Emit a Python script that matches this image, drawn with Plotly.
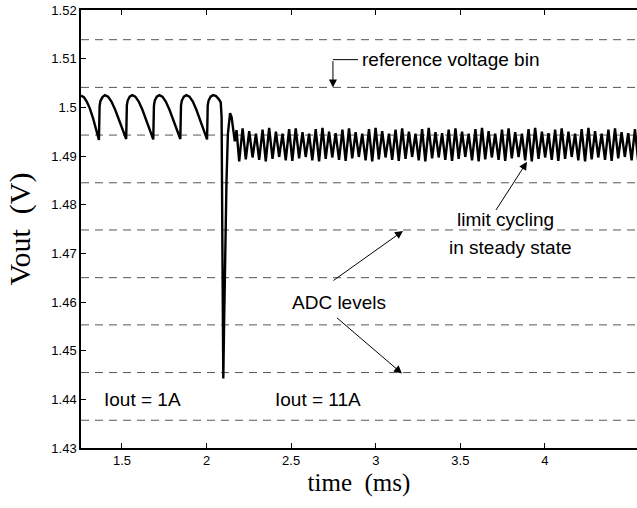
import plotly.graph_objects as go

# ADC quantisation levels (dashed lines), volts
adc_levels = [1.5139, 1.5041, 1.4943, 1.4845, 1.4748, 1.4650, 1.4553, 1.4455, 1.4357]

# Vout before the load step (Iout = 1A), through the dip and recovery
transient_t = [
    1.258, 1.275, 1.292, 1.310, 1.328, 1.345, 1.358, 1.364,
    1.368, 1.373, 1.385, 1.400, 1.418, 1.438, 1.460, 1.482, 1.503, 1.518, 1.525,
    1.529, 1.534, 1.546, 1.561, 1.579, 1.599, 1.621, 1.643, 1.664, 1.678, 1.685,
    1.689, 1.694, 1.706, 1.721, 1.739, 1.759, 1.781, 1.803, 1.824, 1.838, 1.845,
    1.849, 1.854, 1.866, 1.881, 1.899, 1.919, 1.940, 1.962, 1.983, 1.997, 2.003,
    2.007, 2.012, 2.024, 2.039, 2.056, 2.072, 2.084, 2.089, 2.093, 2.097, 2.099,
    2.103, 2.110, 2.118, 2.126, 2.133, 2.139, 2.148, 2.158, 2.167, 2.177,
]
transient_v = [
    1.5024, 1.5021, 1.5012, 1.4998, 1.4979, 1.4957, 1.4941, 1.4933,
    1.5003, 1.5013, 1.5021, 1.5025, 1.5022, 1.5012, 1.4995, 1.4975, 1.4954, 1.4940, 1.4935,
    1.5004, 1.5014, 1.5022, 1.5025, 1.5022, 1.5012, 1.4995, 1.4975, 1.4953, 1.4940, 1.4934,
    1.5003, 1.5014, 1.5022, 1.5025, 1.5022, 1.5012, 1.4995, 1.4975, 1.4954, 1.4941, 1.4935,
    1.5004, 1.5014, 1.5022, 1.5025, 1.5022, 1.5012, 1.4995, 1.4975, 1.4953, 1.4940, 1.4934,
    1.5004, 1.5014, 1.5022, 1.5025, 1.5023, 1.5017, 1.5010, 1.4980, 1.4750, 1.4500, 1.4443,
    1.4540, 1.4700, 1.4850, 1.4945, 1.4980, 1.4988, 1.4980, 1.4958, 1.4930, 1.4953,
]

# limit cycling in steady state (Iout = 11A): troughs and peaks
ss_trough_t = [
    2.193, 2.232, 2.272, 2.311, 2.350, 2.390, 2.429, 2.468, 2.507, 2.547,
    2.586, 2.625, 2.665, 2.704, 2.743, 2.783, 2.822, 2.861, 2.900, 2.940,
    2.979, 3.018, 3.058, 3.097, 3.136, 3.176, 3.215, 3.254, 3.293, 3.333,
    3.372, 3.411, 3.451, 3.490, 3.529, 3.569, 3.608, 3.647, 3.686, 3.726,
    3.765, 3.804, 3.844, 3.883, 3.922, 3.962, 4.001, 4.040, 4.079, 4.119,
    4.158, 4.197, 4.237, 4.276, 4.315, 4.355, 4.394, 4.433, 4.472, 4.512,
    4.551,
]
ss_trough_v = [
    1.4889, 1.4893, 1.4897, 1.4892, 1.4889, 1.4894, 1.4898, 1.4891, 1.4890, 1.4895,
    1.4898, 1.4891, 1.4889, 1.4894, 1.4897, 1.4892, 1.4890, 1.4895, 1.4898, 1.4891,
    1.4889, 1.4893, 1.4897, 1.4892, 1.4890, 1.4894, 1.4898, 1.4891, 1.4889, 1.4895,
    1.4897, 1.4892, 1.4890, 1.4894, 1.4898, 1.4891, 1.4889, 1.4893, 1.4897, 1.4892,
    1.4890, 1.4895, 1.4898, 1.4891, 1.4889, 1.4894, 1.4897, 1.4892, 1.4890, 1.4894,
    1.4898, 1.4891, 1.4889, 1.4893, 1.4897, 1.4892, 1.4890, 1.4895, 1.4898, 1.4891,
    1.4890,
]
ss_peak_t = [
    2.213, 2.252, 2.292, 2.331, 2.370, 2.410, 2.449, 2.488, 2.527, 2.567,
    2.606, 2.645, 2.685, 2.724, 2.763, 2.803, 2.842, 2.881, 2.920, 2.960,
    2.999, 3.038, 3.078, 3.117, 3.156, 3.196, 3.235, 3.274, 3.313, 3.353,
    3.392, 3.431, 3.471, 3.510, 3.549, 3.589, 3.628, 3.667, 3.706, 3.746,
    3.785, 3.824, 3.864, 3.903, 3.942, 3.982, 4.021, 4.060, 4.099, 4.139,
    4.178, 4.217, 4.257, 4.296, 4.335, 4.375, 4.414, 4.453, 4.492, 4.532,
]
ss_peak_v = [
    1.4957, 1.4951, 1.4946, 1.4954, 1.4958, 1.4950, 1.4946, 1.4955, 1.4957, 1.4949,
    1.4946, 1.4955, 1.4958, 1.4950, 1.4947, 1.4954, 1.4957, 1.4949, 1.4946, 1.4955,
    1.4958, 1.4951, 1.4946, 1.4954, 1.4957, 1.4950, 1.4946, 1.4955, 1.4958, 1.4949,
    1.4947, 1.4954, 1.4957, 1.4950, 1.4946, 1.4955, 1.4958, 1.4951, 1.4946, 1.4954,
    1.4957, 1.4949, 1.4946, 1.4955, 1.4958, 1.4950, 1.4947, 1.4954, 1.4957, 1.4950,
    1.4946, 1.4955, 1.4958, 1.4951, 1.4946, 1.4954, 1.4957, 1.4949, 1.4947, 1.4955,
]

x_ticks = [1.5, 2, 2.5, 3, 3.5, 4]
x_ticktext = ['1.5', '2', '2.5', '3', '3.5', '4']
y_ticks = [1.43, 1.44, 1.45, 1.46, 1.47, 1.48, 1.49, 1.50, 1.51, 1.52]
y_ticktext = ['1.43', '1.44', '1.45', '1.46', '1.47', '1.48', '1.49', '1.5', '1.51', '1.52']

# build the polyline: transient then alternating trough/peak
t_all = list(transient_t)
v_all = list(transient_v)
for i in range(len(ss_trough_t)):
    t_all.append(ss_trough_t[i])
    v_all.append(ss_trough_v[i])
    if i < len(ss_peak_t):
        t_all.append(ss_peak_t[i])
        v_all.append(ss_peak_v[i])

sans = 'Liberation Sans, Arial, sans-serif'
serif = 'Liberation Serif, Times New Roman, serif'

fig = go.Figure()

for lvl in adc_levels:
    fig.add_hline(y=lvl, line=dict(color='#555555', width=1, dash='8px,6px'), layer='below')

fig.add_trace(go.Scatter(x=t_all, y=v_all, mode='lines',
                         line=dict(color='black', width=2.4), showlegend=False))

ann_font = dict(family=sans, size=19, color='black')
arrow = dict(showarrow=True, arrowhead=2, arrowsize=1.6, arrowwidth=1,
             arrowcolor='black', axref='x', ayref='y', text='')

# reference voltage bin (elbow arrow)
fig.add_shape(type='line', x0=2.747, x1=2.895, y0=1.5098, y1=1.5098,
              line=dict(color='black', width=1))
fig.add_annotation(x=2.747, y=1.5041, ax=2.747, ay=1.5098, **arrow)
fig.add_annotation(x=2.905, y=1.5098, text='reference voltage bin', showarrow=False,
                   xanchor='left', font=ann_font)

# limit cycling
fig.add_annotation(x=3.894, y=1.4888, ax=3.705, ay=1.4786, **arrow)
fig.add_annotation(x=3.764, y=1.4769, text='limit cycling', showarrow=False, font=ann_font)
fig.add_annotation(x=3.794, y=1.4711, text='in steady state', showarrow=False, font=ann_font)

# ADC levels
fig.add_annotation(x=3.161, y=1.4746, ax=2.741, ay=1.4642, **arrow)
fig.add_annotation(x=3.155, y=1.4453, ax=2.762, ay=1.4570, **arrow)
fig.add_annotation(x=2.78, y=1.4600, text='ADC levels', showarrow=False, font=ann_font)

fig.add_annotation(x=1.624, y=1.4399, text='Iout = 1A', showarrow=False, font=ann_font)
fig.add_annotation(x=2.659, y=1.4399, text='Iout = 11A', showarrow=False, font=ann_font)

fig.update_layout(
    width=637, height=508,
    margin=dict(l=81, r=0, t=10, b=60),
    paper_bgcolor='white', plot_bgcolor='white',
    font=dict(family=sans, size=13, color='black'),
    xaxis=dict(range=[1.258, 4.544], tickvals=x_ticks, ticktext=x_ticktext,
               ticks='inside', ticklen=5, tickcolor='black', showline=True,
               linecolor='black', linewidth=1.5, mirror='ticks', showgrid=False,
               zeroline=False,
               title=dict(text='time  (ms)', font=dict(family=serif, size=25), standoff=6)),
    yaxis=dict(range=[1.43, 1.52], tickvals=y_ticks, ticktext=y_ticktext,
               ticks='inside', ticklen=5, tickcolor='black', showline=True,
               linecolor='black', linewidth=1.5, showgrid=False, zeroline=False,
               title=dict(text='Vout  (V)', font=dict(family=serif, size=30), standoff=12)),
)

# drop the default page margin so the figure sits at the window's corner
fig.write_html('out.html', config={'displayModeBar': False},
               post_script="document.body.style.margin='0';")
